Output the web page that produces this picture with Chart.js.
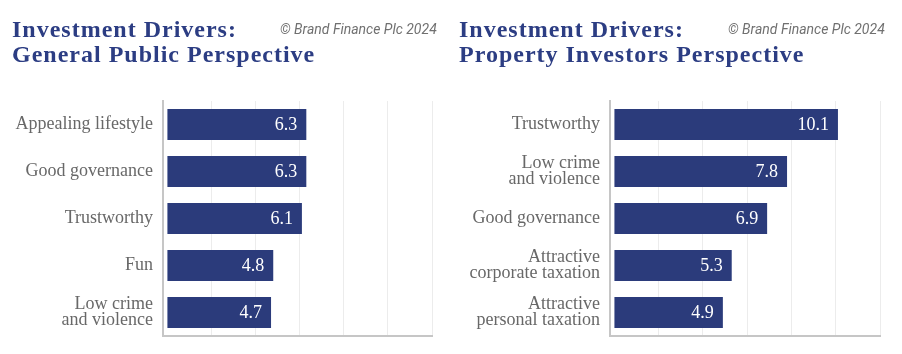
<!DOCTYPE html>
<html>
<head>
<meta charset="utf-8">
<script src="https://cdn.jsdelivr.net/npm/chart.js@4.4.1/dist/chart.umd.min.js"></script>
<style>
    html, body { margin: 0; padding: 0; background: #fff; }
    #wrap { position: relative; width: 902px; height: 354px; overflow: hidden; }
    .panel { position: absolute; top: 0; width: 451px; height: 354px; }
    .panel canvas { position: absolute; left: 0; top: 0; }
    .title {
        position: absolute; top: 17px; margin: 0;
        font-family: "Liberation Serif", serif; font-weight: bold;
        font-size: 24px; line-height: 25px; color: #2c3d83;
        letter-spacing: 1px; white-space: nowrap;
    }
    .copy {
        position: absolute; top: 22px;
        font-family: Roboto, sans-serif; font-style: italic;
        font-size: 14px; line-height: 15px; color: #707070;
        white-space: nowrap;
    }
</style>
</head>
<body>
<div id="wrap">
    <div class="panel" style="left:0">
        <canvas id="publicChart" width="451" height="354"></canvas>
        <div class="title" style="left:12px">Investment Drivers:<br>General Public Perspective</div>
        <div class="copy" style="left:280px">© Brand Finance Plc 2024</div>
    </div>
    <div class="panel" style="left:451px">
        <canvas id="investorChart" width="451" height="354"></canvas>
        <div class="title" style="left:8px">Investment Drivers:<br>Property Investors Perspective</div>
        <div class="copy" style="left:277px">© Brand Finance Plc 2024</div>
    </div>
</div>
<script>
    const publicLabels = ['Appealing lifestyle', 'Good governance', 'Trustworthy', 'Fun', ['Low crime', 'and violence']];
    const publicValues = [6.3, 6.3, 6.1, 4.8, 4.7];

    const investorLabels = ['Trustworthy', ['Low crime', 'and violence'], 'Good governance',
        ['Attractive', 'corporate taxation'], ['Attractive', 'personal taxation']];
    const investorValues = [10.1, 7.8, 6.9, 5.3, 4.9];

    const gridTicks = [2, 4, 6, 8, 10, 12];

    const barColor = '#2b3b7b';

    // white value text inside the bar end
    const valueLabels = {
        id: 'valueLabels',
        afterDatasetsDraw(chart) {
            const ctx = chart.ctx;
            const meta = chart.getDatasetMeta(0);
            const data = chart.data.datasets[0].data;
            ctx.save();
            ctx.font = '18px "Liberation Serif", serif';
            ctx.fillStyle = '#ffffff';
            ctx.textAlign = 'right';
            ctx.textBaseline = 'middle';
            meta.data.forEach((bar, i) => {
                ctx.fillText(data[i].toFixed(1), bar.x - 9, bar.y + 1);
            });
            ctx.restore();
        }
    };

    function drawBarChart(canvasId, labels, values, axisWidth, rightPad) {
        const ctx = document.getElementById(canvasId).getContext('2d');
        new Chart(ctx, {
            type: 'bar',
            data: {
                labels: labels,
                datasets: [{
                    data: values,
                    backgroundColor: barColor,
                    borderWidth: 0,
                    categoryPercentage: 1,
                    barPercentage: 0.66
                }]
            },
            options: {
                indexAxis: 'y',
                responsive: false,
                animation: false,
                layout: {
                    padding: { top: 101, bottom: 18, left: 0, right: rightPad }
                },
                plugins: {
                    legend: { display: false },
                    tooltip: { enabled: false }
                },
                scales: {
                    x: {
                        min: -0.2,
                        max: 12,
                        afterBuildTicks: scale => {
                            scale.ticks = gridTicks.map(v => ({ value: v }));
                        },
                        ticks: { display: false },
                        grid: { color: '#ececec', lineWidth: 1, drawTicks: false },
                        border: { display: true, color: '#c6c6c6', width: 2 }
                    },
                    y: {
                        afterFit: scale => { scale.width = axisWidth; },
                        grid: { display: false, drawTicks: false },
                        border: { display: true, color: '#c6c6c6', width: 2 },
                        ticks: {
                            padding: 10,
                            color: '#686868',
                            font: { family: '"Liberation Serif", serif', size: 18, lineHeight: 0.9 }
                        }
                    }
                }
            },
            plugins: [valueLabels]
        });
    }

    drawBarChart('publicChart', publicLabels, publicValues, 163, 19);
    drawBarChart('investorChart', investorLabels, investorValues, 159, 22);
</script>
</body>
</html>
